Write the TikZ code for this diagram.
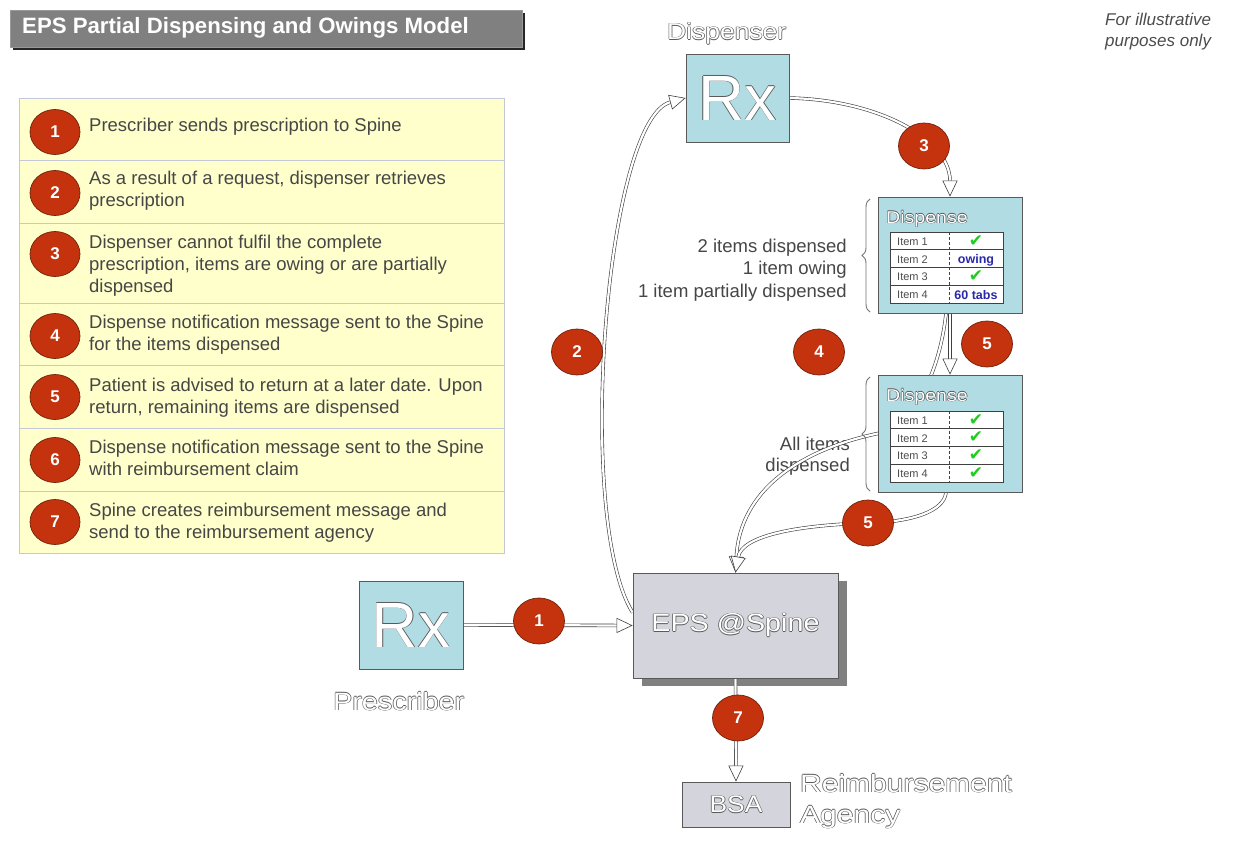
\documentclass[tikz,border=0pt]{standalone}
\usepackage{fontspec}
\usepackage{graphicx}
\setmainfont{Liberation Sans}
\newfontfamily\dejavu{DejaVu Sans}
\usetikzlibrary{arrows.meta,decorations.pathreplacing,shapes.geometric}
\pgfdeclarelayer{bg}
\pgfsetlayers{bg,main}
\definecolor{rxblue}{RGB}{178,220,228}
\definecolor{spinegray}{RGB}{212,213,220}
\definecolor{stepred}{RGB}{196,50,14}
\definecolor{stepedge}{RGB}{110,35,10}
\definecolor{legendyellow}{RGB}{255,255,204}
\definecolor{legendline}{RGB}{196,200,216}
\definecolor{titlegray}{RGB}{128,128,128}
\definecolor{txtgray}{RGB}{70,70,70}
\definecolor{olc}{RGB}{90,90,90}
\definecolor{chk}{RGB}{30,205,30}
\definecolor{owblue}{RGB}{40,40,170}
\newcommand\fs[1]{\fontsize{#1}{#1}\selectfont}
\newcommand\otxt[2][1.15]{\scalebox{#1}[1]{\rlap{\color{olc}\hspace*{-0.6pt}#2}\rlap{\color{olc}\hspace*{0.6pt}#2}\rlap{\color{olc}\raisebox{0.6pt}{#2}}\rlap{\color{olc}\raisebox{-0.6pt}{#2}}\color{white}#2}}
\newcommand\chkm{{\dejavu\fs{17}\color{chk}✔}}
\begin{document}
\begin{tikzpicture}[x=1pt,y=-1pt,
 box/.style={draw=black!65, line width=0.8pt, inner sep=0pt},
 rxbox/.style={box, fill=rxblue, minimum width=103pt, minimum height=88pt},
 stepdot/.style={ellipse, draw=stepedge, line width=0.7pt, fill=stepred, minimum width=51pt, minimum height=46pt, inner sep=0pt, text=white, font=\bfseries\fs{17}},
 legtxt/.style={anchor=base west, inner sep=0pt, text=txtgray, font=\fs{18.5}},
 sidetxt/.style={anchor=base east, inner sep=0pt, text=txtgray, font=\fs{18.5}},
 itemtxt/.style={anchor=base west, inner sep=0pt, text=black!70, font=\fs{11}},
 valtxt/.style={anchor=base, inner sep=0pt, text=owblue, font=\bfseries\fs{12.5}},
 conn/.style={draw=black!75, line width=0.6pt, double=white, double distance=2.2pt, -{Triangle[fill=white, length=16pt, width=15pt]}},
 bracestyle/.style={draw=black!55, line width=0.9pt, decorate, decoration={brace, amplitude=8pt}},
 lbl/.style={anchor=base west, inner sep=0pt}
]
\useasboundingbox (0,0) rectangle (1242,861);
\begin{pgfonlayer}{bg}
\fill[white] (0,0) rectangle (1242,861);
\end{pgfonlayer}

% title
\fill[black!85] (13,13) rectangle (525,50);
\node[fill=titlegray, draw=black!40, minimum width=512pt, minimum height=37pt, anchor=north west, inner sep=0pt] (title) at (10,10) {};
\node[lbl, text=white, font=\bfseries\fs{22.2}] (titletxt) at (22,34) {EPS Partial Dispensing and Owings Model};

% note
\node[lbl, font=\itshape\fs{17}, text=black!70] (note1) at (1105,26) {For illustrative};
\node[lbl, font=\itshape\fs{17}, text=black!70] (note2) at (1105,47) {purposes only};

% legend
\node[draw=legendline, fill=legendyellow, anchor=north west, minimum width=485pt, minimum height=455pt, inner sep=0pt] (legend) at (19,98) {};
\foreach \yy in {160,223,303,365,428,491} \draw[legendline] (19,\yy) -- (504,\yy);
\node[stepdot, minimum width=50pt, minimum height=45pt] (l1) at (55,132) {1};
\node[stepdot, minimum width=50pt, minimum height=45pt] (l2) at (55,193) {2};
\node[stepdot, minimum width=50pt, minimum height=45pt] (l3) at (55,254) {3};
\node[stepdot, minimum width=50pt, minimum height=45pt] (l4) at (55,336) {4};
\node[stepdot, minimum width=50pt, minimum height=45pt] (l5) at (55,397) {5};
\node[stepdot, minimum width=50pt, minimum height=45pt] (l6) at (55,460) {6};
\node[stepdot, minimum width=50pt, minimum height=45pt] (l7) at (55,522) {7};
\node[legtxt] (t1a) at (89,132) {Prescriber sends prescription to Spine};
\node[legtxt] (t2a) at (89,185) {As a result of a request, dispenser retrieves};
\node[legtxt] (t2b) at (89,207) {prescription};
\node[legtxt] (t3a) at (89,248) {Dispenser cannot fulfil the complete};
\node[legtxt] (t3b) at (89,270) {prescription, items are owing or are partially};
\node[legtxt] (t3c) at (89,292) {dispensed};
\node[legtxt] (t4a) at (89,328) {Dispense notification message sent to the Spine};
\node[legtxt] (t4b) at (89,350) {for the items dispensed};
\node[legtxt] (t5a) at (89,391) {Patient is advised to return at a later date. Upon};
\node[legtxt] (t5b) at (89,413) {return, remaining items are dispensed};
\node[legtxt] (t6a) at (89,453) {Dispense notification message sent to the Spine};
\node[legtxt] (t6b) at (89,475) {with reimbursement claim};
\node[legtxt] (t7a) at (89,516) {Spine creates reimbursement message and};
\node[legtxt] (t7b) at (89,538) {send to the reimbursement agency};

% main boxes
\node[rxbox] (disp) at (737.5,98) {\fs{64}\otxt[1.0]{Rx}};
\node[lbl] (displbl) at (667,40) {\fs{23}\otxt{Dispenser}};
\node[rxbox, minimum width=104pt] (presc) at (411,625) {\fs{64}\otxt[1.0]{Rx}};
\node[lbl] (presclbl) at (333,710) {\fs{25}\otxt{Prescriber}};
\begin{pgfonlayer}{bg}
\fill[black!50] (642,581) rectangle (847,686);
\end{pgfonlayer}
\node[box, fill=spinegray, minimum width=205pt, minimum height=105pt] (spine) at (735.5,625.5) {\fs{25}\otxt{EPS @Spine}};
\node[box, fill=spinegray, minimum width=108pt, minimum height=45pt] (bsa) at (736,804.5) {\fs{24}\otxt[1.1]{BSA}};
\node[lbl] (reimb1) at (800,792) {\fs{25}\otxt[1.2]{Reimbursement}};
\node[lbl] (reimb2) at (800,823) {\fs{25}\otxt[1.2]{Agency}};

% dispense boxes
\node[box, fill=rxblue, minimum width=144pt, minimum height=116pt] (d1) at (950,255) {};
\node[box, fill=rxblue, minimum width=144pt, minimum height=117pt] (d2) at (950,433.5) {};
\node[lbl] (d1t) at (886,223) {\fs{17}\otxt{Dispense}};
\node[lbl] (d2t) at (886,401) {\fs{17}\otxt{Dispense}};
\foreach \top/\tab in {232/a,411/b}{
  \fill[white] (890,\top) rectangle (1003,{\top+71});
  \foreach \k in {1,2,3} \draw[black!75, line width=0.7pt] (890,{\top+17.75*\k}) -- (1003,{\top+17.75*\k});
  \draw[black!75, line width=0.7pt, densely dashed] (949,\top) -- (949,{\top+71});
  \draw[black!75, line width=0.9pt] (890,\top) rectangle (1003,{\top+71});
  \foreach \k in {1,2,3,4} \node[itemtxt] (item\tab\k) at (897,{\top+17.75*\k-4.5}) {Item \k};
}
\node[anchor=base, inner sep=0pt] (c1) at (976,246) {\chkm};
\node[valtxt] (owing) at (976,263) {owing};
\node[anchor=base, inner sep=0pt] (c3) at (976,281.5) {\chkm};
\node[valtxt] (tabs) at (976,299) {60 tabs};
\node[anchor=base, inner sep=0pt] (e1) at (976,425) {\chkm};
\node[anchor=base, inner sep=0pt] (e2) at (976,442.5) {\chkm};
\node[anchor=base, inner sep=0pt] (e3) at (976,460.5) {\chkm};
\node[anchor=base, inner sep=0pt] (e4) at (976,478.5) {\chkm};

% braces and labels
\draw[bracestyle] (870,312) -- (870,199);
\draw[bracestyle] (870,491) -- (870,377);
\node[sidetxt] (s1a) at (847,252) {2 items dispensed};
\node[sidetxt] (s1b) at (847,274) {1 item owing};
\node[sidetxt] (s1c) at (847,297) {1 item partially dispensed};

% step circles
\node[stepdot] (s1) at (539,621) {1};
\node[stepdot] (s2) at (577,352) {2};
\node[stepdot] (s3) at (924,146) {3};
\node[stepdot] (s4) at (819,352) {4};
\node[stepdot] (s5a) at (987,344) {5};
\node[stepdot] (s5b) at (868,523) {5};
\node[stepdot] (s7) at (738,718) {7};

% connectors
\begin{pgfonlayer}{bg}
\node[sidetxt] (s2a) at (850,450) {All items};
\node[sidetxt] (s2b) at (850,471) {dispensed};
\draw[conn] (presc.east) -- (spine.west);
\draw[conn] ([yshift=13pt]spine.west) .. controls (575,520) and (605,120) .. (disp.west);
\draw[conn] (disp.east) .. controls (880,100) and (950,140) .. (d1.north);
\draw[conn] (d1.south) -- (d2.north);
\draw[conn] ([xshift=-4pt]d1.south) .. controls (940,370) and (915,425) .. (d2.west) .. controls (800,450) and (740,490) .. (spine.north);
\draw[conn] ([xshift=-4pt]d2.south) .. controls (944,512) and (910,522) .. (s5b.center) .. controls (800,525) and (742,535) .. (spine.north);
\draw[conn] (spine.south) -- (bsa.north);
\end{pgfonlayer}
\end{tikzpicture}
\end{document}
